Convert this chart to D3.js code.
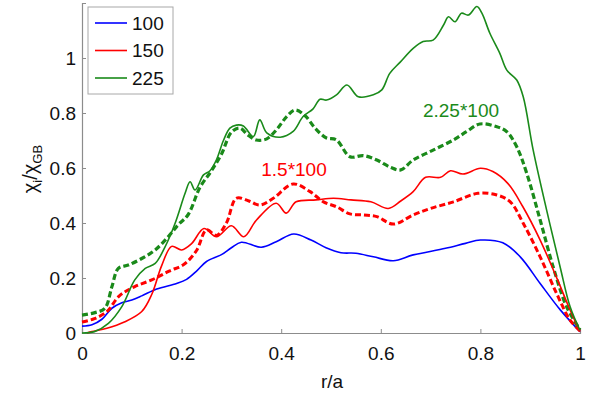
<!DOCTYPE html>
<html>
<head>
<meta charset="utf-8">
<script src="https://cdn.jsdelivr.net/npm/d3@7"></script>
<style>
  body { margin: 0; background: #fff; }
  text { font-family: "Liberation Sans", Arial, sans-serif; }
</style>
</head>
<body>
<svg id="vis" width="592" height="394"></svg>
<script>
// values, r/a vs chi_i/chi_GB
let xTicks = [0, 0.2, 0.4, 0.6, 0.8, 1];
let yTicks = [0, 0.2, 0.4, 0.6, 0.8, 1];

let r100 = [0, 0.02, 0.04, 0.06, 0.08, 0.1, 0.12, 0.15, 0.19, 0.21, 0.23, 0.25, 0.28, 0.3, 0.32, 0.36, 0.39, 0.425, 0.46, 0.49, 0.52, 0.55, 0.585, 0.625, 0.665, 0.73, 0.77, 0.8, 0.845, 0.88, 0.92, 0.96, 1.0];
let chi100 = [0.025, 0.03, 0.05, 0.09, 0.11, 0.12, 0.135, 0.16, 0.18, 0.195, 0.225, 0.26, 0.285, 0.31, 0.33, 0.312, 0.332, 0.36, 0.338, 0.31, 0.292, 0.29, 0.277, 0.263, 0.284, 0.308, 0.326, 0.338, 0.328, 0.277, 0.18, 0.085, 0.005];

let r150 = [0.01, 0.02, 0.05, 0.085, 0.12, 0.14, 0.16, 0.18, 0.2, 0.22, 0.245, 0.27, 0.3, 0.325, 0.35, 0.39, 0.41, 0.43, 0.47, 0.505, 0.54, 0.58, 0.615, 0.64, 0.665, 0.69, 0.72, 0.74, 0.765, 0.8, 0.825, 0.855, 0.885, 0.92, 0.955, 0.98, 1.0];
let chi150 = [0, 0.005, 0.017, 0.04, 0.078, 0.14, 0.245, 0.315, 0.302, 0.325, 0.38, 0.35, 0.39, 0.35, 0.41, 0.472, 0.436, 0.477, 0.484, 0.49, 0.484, 0.477, 0.453, 0.48, 0.514, 0.566, 0.566, 0.59, 0.578, 0.599, 0.587, 0.544, 0.46, 0.338, 0.193, 0.084, 0.005];

let r225 = [0, 0.025, 0.053, 0.08, 0.106, 0.127, 0.147, 0.167, 0.187, 0.207, 0.217, 0.227, 0.244, 0.257, 0.27, 0.284, 0.297, 0.31, 0.324, 0.344, 0.357, 0.371, 0.398, 0.424, 0.444, 0.464, 0.478, 0.491, 0.511, 0.532, 0.555, 0.585, 0.602, 0.618, 0.639, 0.665, 0.685, 0.705, 0.726, 0.736, 0.749, 0.762, 0.776, 0.793, 0.803, 0.819, 0.839, 0.853, 0.873, 0.886, 0.906, 0.933, 0.96, 0.98, 1.0];
let chi225 = [0, 0.005, 0.035, 0.096, 0.193, 0.235, 0.253, 0.314, 0.399, 0.508, 0.55, 0.52, 0.575, 0.59, 0.63, 0.7, 0.745, 0.756, 0.753, 0.714, 0.775, 0.728, 0.712, 0.733, 0.787, 0.815, 0.85, 0.847, 0.866, 0.902, 0.859, 0.866, 0.884, 0.944, 0.985, 1.035, 1.06, 1.065, 1.12, 1.15, 1.132, 1.163, 1.156, 1.187, 1.163, 1.09, 1.017, 0.956, 0.92, 0.859, 0.665, 0.447, 0.241, 0.096, 0.01];

// scaled 100 runs (dashed)
let rS150 = [0, 0.025, 0.05, 0.075, 0.105, 0.14, 0.175, 0.205, 0.23, 0.25, 0.27, 0.29, 0.31, 0.335, 0.357, 0.384, 0.424, 0.458, 0.485, 0.511, 0.538, 0.565, 0.592, 0.625, 0.665, 0.7, 0.746, 0.795, 0.833, 0.86, 0.886, 0.92, 0.953, 0.98, 1.0];
let chiS150 = [0.04, 0.052, 0.078, 0.135, 0.168, 0.193, 0.225, 0.25, 0.3, 0.375, 0.355, 0.4, 0.49, 0.48, 0.465, 0.49, 0.542, 0.514, 0.477, 0.459, 0.433, 0.429, 0.423, 0.396, 0.429, 0.453, 0.477, 0.508, 0.502, 0.477, 0.399, 0.277, 0.144, 0.047, 0.008];

let rS225 = [0, 0.026, 0.046, 0.06, 0.073, 0.093, 0.12, 0.147, 0.173, 0.193, 0.213, 0.237, 0.26, 0.28, 0.3, 0.317, 0.333, 0.35, 0.371, 0.391, 0.411, 0.428, 0.448, 0.468, 0.49, 0.511, 0.538, 0.565, 0.592, 0.62, 0.64, 0.665, 0.705, 0.746, 0.772, 0.799, 0.833, 0.853, 0.873, 0.893, 0.92, 0.946, 0.973, 1.0];
let chiS225 = [0.065, 0.074, 0.09, 0.168, 0.235, 0.247, 0.271, 0.302, 0.35, 0.393, 0.43, 0.53, 0.59, 0.65, 0.73, 0.745, 0.72, 0.702, 0.706, 0.74, 0.787, 0.811, 0.79, 0.745, 0.71, 0.702, 0.641, 0.645, 0.629, 0.602, 0.593, 0.629, 0.665, 0.702, 0.732, 0.76, 0.75, 0.732, 0.677, 0.581, 0.411, 0.241, 0.096, 0.012];

let legendNames = ["100", "150", "225"];
let legendColors = ["#0000ff", "#ff0000", "#1a8a1a"];

function draw() {
    let svg = d3.select("#vis");
    let axisColor = "#8c8c8c";

    let x = d3.scaleLinear().domain([0, 1]).range([82, 580]);
    let y = d3.scaleLinear().domain([0, 1.2]).range([333, 3]);

    // axes, ticks point inward like matlab
    let gx = svg.append("g")
        .attr("transform", "translate(0,333)")
        .call(d3.axisBottom(x).tickValues(xTicks).tickSize(-4).tickPadding(10).tickFormat(d3.format("")));
    let gy = svg.append("g")
        .attr("transform", "translate(82,0)")
        .call(d3.axisLeft(y).tickValues(yTicks).tickSize(-4).tickPadding(6).tickFormat(d3.format("")));

    [gx, gy].forEach(g => {
        g.select(".domain").attr("stroke", axisColor).attr("stroke-width", 1.2);
        g.selectAll(".tick line").attr("stroke", axisColor);
        g.selectAll(".tick text").attr("fill", "#111").style("font-size", "19px")
            .style("font-family", "'Liberation Sans', Arial, sans-serif");
    });
    gx.selectAll(".tick text").attr("dy", "0.9em");

    let series = [
        {r: r100, chi: chi100, color: legendColors[0], dash: null, w: 1.6},
        {r: rS150, chi: chiS150, color: legendColors[1], dash: "6,3", w: 3},
        {r: rS225, chi: chiS225, color: legendColors[2], dash: "6,3", w: 3.2},
        {r: r150, chi: chi150, color: legendColors[1], dash: null, w: 1.6},
        {r: r225, chi: chi225, color: legendColors[2], dash: null, w: 1.6}
    ];

    let line = d3.line()
        .x(d => x(d[0]))
        .y(d => y(d[1]))
        .curve(d3.curveCatmullRom.alpha(0.5));

    series.forEach(s => {
        let pts = s.r.map((v, i) => [v, s.chi[i]]);
        svg.append("path")
            .datum(pts)
            .attr("d", line)
            .attr("fill", "none")
            .attr("stroke", s.color)
            .attr("stroke-width", s.w)
            .attr("stroke-dasharray", s.dash);
    });

    // annotations for the scaled curves
    svg.append("text").attr("x", 294).attr("y", 176).attr("text-anchor", "middle")
        .attr("fill", "#ff0000").style("font-size", "19px").text("1.5*100");
    svg.append("text").attr("x", 461).attr("y", 117).attr("text-anchor", "middle")
        .attr("fill", legendColors[2]).style("font-size", "19px").text("2.25*100");

    // axis labels
    svg.append("text").attr("x", 332).attr("y", 388).attr("text-anchor", "middle")
        .attr("fill", "#111").style("font-size", "19px").text("r/a");

    let ylab = svg.append("text")
        .attr("transform", "translate(37,169) rotate(-90)")
        .attr("text-anchor", "middle")
        .attr("fill", "#111").style("font-size", "20px");
    ylab.append("tspan").text("χ");
    ylab.append("tspan").attr("dy", 5).style("font-size", "13px").text("i");
    ylab.append("tspan").attr("dy", -5).text("/χ");
    ylab.append("tspan").attr("dy", 5).style("font-size", "13px").text("GB");

    // legend
    let leg = svg.append("g");
    leg.append("rect").attr("x", 88).attr("y", 7).attr("width", 85).attr("height", 87)
        .attr("fill", "#fff").attr("stroke", "#a8a8a8");
    legendNames.forEach((n, i) => {
        let cy = 23 + i * 27.5;
        leg.append("line").attr("x1", 95).attr("x2", 127).attr("y1", cy).attr("y2", cy)
            .attr("stroke", legendColors[i]).attr("stroke-width", 1.6);
        leg.append("text").attr("x", 132).attr("y", cy).attr("dy", "0.36em")
            .attr("fill", "#111").style("font-size", "19px").text(n);
    });
}

document.addEventListener('DOMContentLoaded', () => {
    draw();
});
</script>
</body>
</html>
